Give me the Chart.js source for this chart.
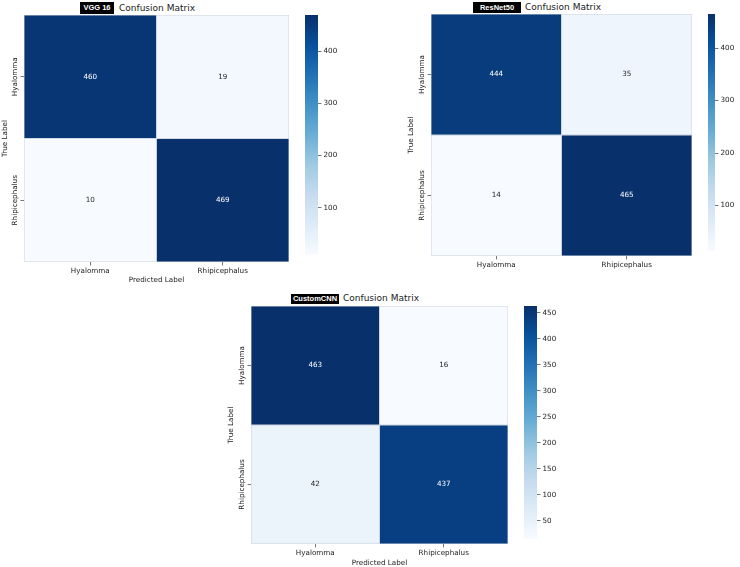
<!DOCTYPE html>
<html>
<head>
<meta charset="utf-8">
<script src="https://cdn.jsdelivr.net/npm/chart.js@4.4.1/dist/chart.umd.min.js"></script>
<style>
  body { margin: 0; width: 740px; height: 567px; background: #fff; position: relative; overflow: hidden; font-family: "DejaVu Sans", sans-serif; }
  .holder { position: absolute; }
  .tag { position: absolute; background: #000; color: #fff; font: bold 7.5px "Liberation Sans", Arial, sans-serif; text-align: center; }
  .ttl { position: absolute; font-size: 9px; color: #1a1a1a; white-space: nowrap; }
</style>
</head>
<body>
<div class="tag" style="left:80px;top:2px;width:34px;height:12px;line-height:12px;">VGG 16</div>
<div class="ttl" style="left:119px;top:2px;line-height:12px;">Confusion Matrix</div>
<div class="tag" style="left:473px;top:2px;width:48px;height:11px;line-height:11px;">ResNet50</div>
<div class="ttl" style="left:525px;top:1px;line-height:12px;">Confusion Matrix</div>
<div class="tag" style="left:291px;top:294px;width:48px;height:10px;line-height:10px;">CustomCNN</div>
<div class="ttl" style="left:343px;top:292px;line-height:12px;">Confusion Matrix</div>

<div class="holder" style="left:0px;top:0px;width:289px;height:284px;"><canvas id="vggMap"></canvas></div>
<div class="holder" style="left:305px;top:0px;width:38px;height:261px;"><canvas id="vggBar"></canvas></div>
<div class="holder" style="left:406px;top:0px;width:286px;height:270px;"><canvas id="resMap"></canvas></div>
<div class="holder" style="left:708px;top:0px;width:32px;height:257px;"><canvas id="resBar"></canvas></div>
<div class="holder" style="left:226px;top:291px;width:282px;height:276px;"><canvas id="cnnMap"></canvas></div>
<div class="holder" style="left:524px;top:291px;width:38px;height:254px;"><canvas id="cnnBar"></canvas></div>

<script>
// class names (rows = true label, columns = predicted label)
const classes = ["Hyalomma", "Rhipicephalus"];

// confusion matrix counts
const vgg16Counts = [[460, 19], [10, 469]];
const resnet50Counts = [[444, 35], [14, 465]];
const customCnnCounts = [[463, 16], [42, 437]];

// colorbar tick labels
const vgg16Ticks = [100, 200, 300, 400];
const resnet50Ticks = [100, 200, 300, 400];
const customCnnTicks = [50, 100, 150, 200, 250, 300, 350, 400, 450];

// matplotlib "Blues" colormap
const blues = ["#f7fbff", "#deebf7", "#c6dbef", "#9ecae1", "#6baed6", "#4292c6", "#2171b5", "#08519c", "#08306b"];
const fontFamily = "'DejaVu Sans', sans-serif";
const fontSize = 7.2;
const textColor = "#1a1a1a";

function hexRgb(h) {
  return [1, 3, 5].map((i) => parseInt(h.slice(i, i + 2), 16));
}

function bluesAt(t) {
  t = Math.max(0, Math.min(1, t));
  const s = t * (blues.length - 1);
  const i = Math.min(Math.floor(s), blues.length - 2);
  const f = s - i;
  const a = hexRgb(blues[i]), b = hexRgb(blues[i + 1]);
  const c = a.map((v, k) => Math.round(v + (b[k] - v) * f));
  return `rgb(${c.join(",")})`;
}

// writes the count in the middle of each cell
const cellLabels = {
  id: "cellLabels",
  afterDatasetsDraw(chart) {
    const ctx = chart.ctx;
    ctx.save();
    ctx.font = `${fontSize}px ${fontFamily}`;
    ctx.textAlign = "center";
    ctx.textBaseline = "middle";
    chart.data.datasets.forEach((ds, r) => {
      chart.getDatasetMeta(r).data.forEach((bar, c) => {
        ctx.fillStyle = ds.textColors[c];
        ctx.fillText(String(ds.counts[c]), bar.x, (bar.y + bar.base) / 2);
      });
    });
    ctx.restore();
  },
};

// rotated row labels next to the y ticks
const rowLabels = {
  id: "rowLabels",
  afterDraw(chart) {
    const y = chart.scales.y;
    const ctx = chart.ctx;
    ctx.save();
    ctx.font = `${fontSize}px ${fontFamily}`;
    ctx.fillStyle = textColor;
    ctx.textAlign = "center";
    ctx.textBaseline = "middle";
    y.ticks.forEach((t, i) => {
      ctx.save();
      ctx.translate(y.right - 8.5, y.getPixelForValue(t.value));
      ctx.rotate(-Math.PI / 2);
      ctx.fillText(classes[i], 0, 0);
      ctx.restore();
    });
    ctx.restore();
  },
};

function drawHeatmap(id, counts, opts) {
  const flat = counts.flat();
  const vmin = Math.min(...flat);
  const vmax = Math.max(...flat);

  const datasets = counts.map((row, r) => {
    const t = row.map((v) => (v - vmin) / (vmax - vmin));
    return {
      label: classes[r],
      data: row.map(() => [r, r + 1]),
      counts: row,
      backgroundColor: t.map(bluesAt),
      textColors: t.map((x) => (x > 0.55 ? "#ffffff" : "#262626")),
      borderColor: "#c9d2df",
      borderWidth: 0.8,
      borderSkipped: false,
      barPercentage: 1,
      categoryPercentage: 1,
      grouped: false,
    };
  });

  new Chart(document.getElementById(id), {
    type: "bar",
    data: { labels: classes, datasets: datasets },
    options: {
      responsive: true,
      maintainAspectRatio: false,
      animation: false,
      layout: { padding: { top: opts.padTop, left: 0, right: 0, bottom: 0 } },
      plugins: { legend: { display: false }, tooltip: { enabled: false } },
      scales: {
        x: {
          type: "category",
          offset: true,
          border: { display: false },
          grid: { offset: false, drawOnChartArea: false, tickLength: 3.5, color: "#555", lineWidth: 0.8 },
          ticks: { font: { family: fontFamily, size: fontSize }, color: textColor, padding: 1, maxRotation: 0 },
          title: {
            display: opts.xTitle,
            text: "Predicted Label",
            font: { family: fontFamily, size: fontSize },
            color: textColor,
            padding: 0,
          },
          afterFit(s) { s.height = opts.xHeight; },
        },
        y: {
          type: "linear",
          min: 0,
          max: 2,
          reverse: true,
          border: { display: false },
          grid: { drawOnChartArea: false, tickLength: 3.5, color: "#555", lineWidth: 0.8 },
          ticks: { display: false },
          afterBuildTicks(s) { s.ticks = [{ value: 0.5 }, { value: 1.5 }]; },
          title: {
            display: true,
            text: "True Label",
            font: { family: fontFamily, size: fontSize },
            color: textColor,
            padding: { top: 1, bottom: 0 },
          },
          afterFit(s) { s.width = opts.yWidth; },
        },
      },
    },
    plugins: [cellLabels, rowLabels],
  });

  return { vmin, vmax };
}

function drawColorbar(id, range, tickValues, padTop) {
  new Chart(document.getElementById(id), {
    type: "bar",
    data: {
      labels: [""],
      datasets: [{
        data: [[range.vmin, range.vmax]],
        backgroundColor(ctx) {
          const chart = ctx.chart;
          if (!chart.chartArea) return blues[4];
          const y = chart.scales.y;
          const g = chart.ctx.createLinearGradient(0, y.getPixelForValue(range.vmin), 0, y.getPixelForValue(range.vmax));
          blues.forEach((c, i) => g.addColorStop(i / (blues.length - 1), c));
          return g;
        },
        borderWidth: 0,
        barPercentage: 1,
        categoryPercentage: 1,
      }],
    },
    options: {
      responsive: true,
      maintainAspectRatio: false,
      animation: false,
      layout: { padding: { top: padTop, left: 0, right: 0, bottom: 0 } },
      plugins: { legend: { display: false }, tooltip: { enabled: false } },
      scales: {
        x: { display: false, offset: true },
        y: {
          position: "right",
          min: range.vmin,
          max: range.vmax,
          border: { display: false },
          grid: { drawOnChartArea: false, tickLength: 3.5, color: "#555", lineWidth: 0.8 },
          ticks: { font: { family: fontFamily, size: fontSize }, color: textColor, padding: 2 },
          afterBuildTicks(s) { s.ticks = tickValues.map((v) => ({ value: v })); },
          afterFit(s) { s.width = 25; },
        },
      },
    },
  });
}

const vggRange = drawHeatmap("vggMap", vgg16Counts, { padTop: 15, xHeight: 22, yWidth: 24, xTitle: true });
drawColorbar("vggBar", vggRange, vgg16Ticks, 15);

const resRange = drawHeatmap("resMap", resnet50Counts, { padTop: 14, xHeight: 14, yWidth: 25, xTitle: false });
drawColorbar("resBar", resRange, resnet50Ticks, 14);

const cnnRange = drawHeatmap("cnnMap", customCnnCounts, { padTop: 15, xHeight: 23, yWidth: 25, xTitle: true });
drawColorbar("cnnBar", cnnRange, customCnnTicks, 15);
</script>
</body>
</html>
